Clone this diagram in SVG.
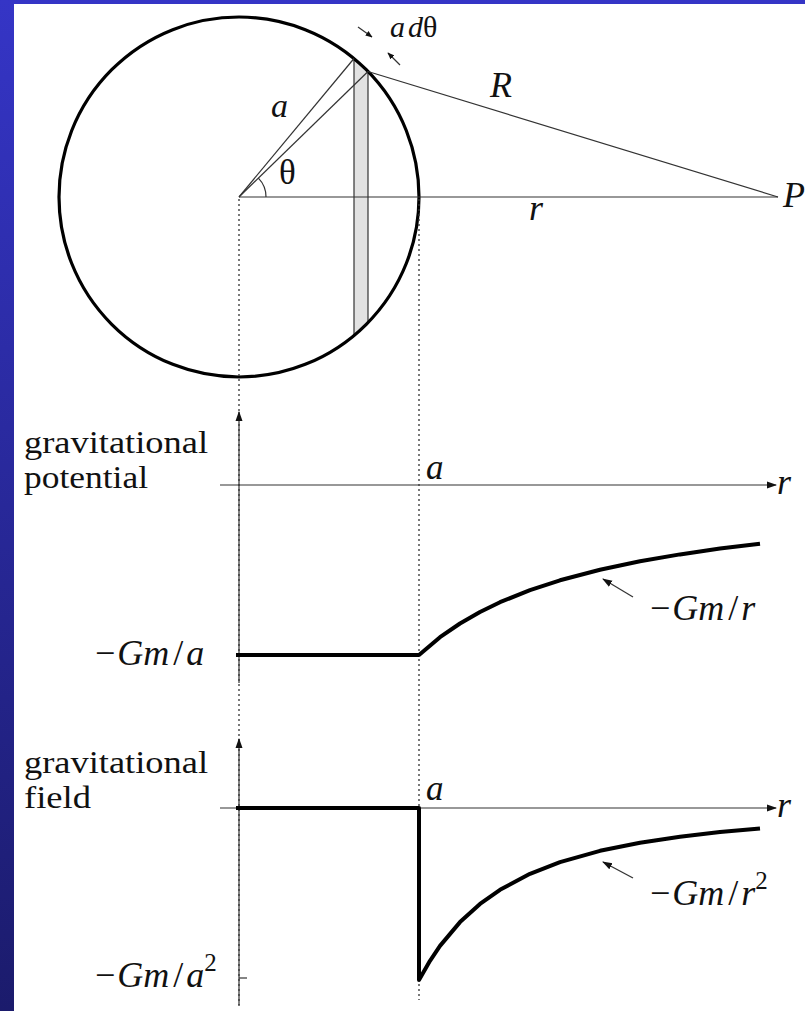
<svg xmlns="http://www.w3.org/2000/svg" width="805" height="1011" viewBox="0 0 805 1011">
<defs>
<linearGradient id="bg" x1="0" y1="0" x2="0" y2="1">
<stop offset="0" stop-color="#3535c6"/>
<stop offset="1" stop-color="#1b1b6c"/>
</linearGradient>
<clipPath id="disk"><circle cx="239" cy="197" r="180"/></clipPath>
<marker id="ah" viewBox="0 0 10 10" refX="9" refY="5" markerWidth="10" markerHeight="10" markerUnits="userSpaceOnUse" orient="auto">
<path d="M0,1.5 L10,5 L0,8.5 z" fill="#111"/>
</marker>
<marker id="ahs" viewBox="0 0 10 10" refX="9" refY="5" markerWidth="7" markerHeight="7" markerUnits="userSpaceOnUse" orient="auto">
<path d="M0,1 L10,5 L0,9 z" fill="#111"/>
</marker>
</defs>
<style>
.thin{stroke:#333;stroke-width:1.2;fill:none}
.dot{stroke:#333;stroke-width:1.3;stroke-dasharray:2 3;fill:none}
.thick{stroke:#000;stroke-width:4;fill:none;stroke-linejoin:round}
.lbl{font-family:"Liberation Serif","Times New Roman",serif;fill:#111}
.mi{font-family:"Liberation Serif","Times New Roman",serif;font-style:italic;fill:#111}
</style>
<rect x="0" y="0" width="805" height="1011" fill="url(#bg)"/>
<rect x="14" y="4" width="791" height="1007" fill="#fff"/>

<g id="sphere">
<rect x="354" y="0" width="14" height="400" fill="#e2e2e2" clip-path="url(#disk)"/>
<line class="thin" x1="354" y1="58.5" x2="354" y2="335.5"/>
<line class="thin" x1="368" y1="71.5" x2="368" y2="322.5"/>
<circle cx="239" cy="197" r="180" fill="none" stroke="#000" stroke-width="3.2"/>
</g>

<g id="connectors">
<line class="thin" x1="239" y1="197" x2="354" y2="58.5"/>
<line class="thin" x1="239" y1="197" x2="368" y2="71.5"/>
<line class="thin" x1="368" y1="71.5" x2="778" y2="197"/>
<line class="thin" x1="239" y1="197" x2="778" y2="197"/>
<path class="thin" d="M266,197 A27,27 0 0 0 258.4,178.2"/>
<line class="thin" x1="358" y1="27" x2="372" y2="37" marker-end="url(#ahs)"/>
<line class="thin" x1="400" y1="65" x2="388" y2="53" marker-end="url(#ahs)"/>
<line class="dot" x1="239" y1="199" x2="239" y2="1008"/>
<line class="dot" x1="419" y1="199" x2="419" y2="1000"/>
<line class="thin" x1="239" y1="683" x2="239" y2="412" marker-end="url(#ah)"/>
<line class="thin" x1="220" y1="485" x2="776" y2="485" marker-end="url(#ah)"/>
<line class="thin" x1="239" y1="1005" x2="239" y2="739" marker-end="url(#ah)"/>
<line class="thin" x1="220" y1="808" x2="776" y2="808" marker-end="url(#ah)"/>
<line class="thin" x1="239" y1="978" x2="247" y2="978"/>
<line class="thin" x1="633" y1="597" x2="603" y2="579" marker-end="url(#ah)"/>
<line class="thin" x1="633" y1="878" x2="603" y2="862" marker-end="url(#ah)"/>
</g>

<g id="potential-curve">
<polyline class="thick" points="236,655 419,655 440,637.2 460,623.5 480,612 500,602.2 530,590.2 560,580.3 600,569.8 640,561.3 680,554.4 720,548.6 760,543.7"/>
</g>
<g id="field-curve">
<polyline class="thick" points="236,808 419,808 419,980 430,960.8 440,945.9 460,922.1 480,903.9 500,889.8 530,873.8 560,862.1 600,850.8 640,842.7 680,836.7 720,832.1 760,828.5"/>
</g>

<g id="labels">
<text class="mi" x="390" y="37" font-size="30">a<tspan dx="3">d</tspan><tspan font-style="normal">θ</tspan></text>
<text class="mi" x="271" y="117" font-size="34">a</text>
<text class="lbl" x="279" y="184" font-size="35">θ</text>
<text class="mi" x="490" y="97" font-size="36">R</text>
<text class="mi" x="529" y="220" font-size="36">r</text>
<text class="mi" x="783" y="207" font-size="36">P</text>
<text class="lbl" x="24" y="453" font-size="32" textLength="184" lengthAdjust="spacingAndGlyphs">gravitational</text>
<text class="lbl" x="24" y="488" font-size="32" textLength="124" lengthAdjust="spacingAndGlyphs">potential</text>
<text class="mi" x="426" y="479" font-size="35">a</text>
<text class="mi" x="777" y="494" font-size="36">r</text>
<text class="mi" x="95" y="665" font-size="36"><tspan font-style="normal">−</tspan><tspan dx="2">Gm</tspan><tspan dx="4" font-style="normal">/</tspan><tspan dx="3">a</tspan></text>
<text class="mi" x="650" y="620" font-size="36"><tspan font-style="normal">−</tspan><tspan dx="2">Gm</tspan><tspan dx="4" font-style="normal">/</tspan><tspan dx="3">r</tspan></text>
<text class="lbl" x="24" y="773" font-size="32" textLength="184" lengthAdjust="spacingAndGlyphs">gravitational</text>
<text class="lbl" x="24" y="808" font-size="32" textLength="67" lengthAdjust="spacingAndGlyphs">field</text>
<text class="mi" x="426" y="800" font-size="35">a</text>
<text class="mi" x="777" y="817" font-size="36">r</text>
<text class="mi" x="650" y="905" font-size="36"><tspan font-style="normal">−</tspan><tspan dx="2">Gm</tspan><tspan dx="4" font-style="normal">/</tspan><tspan dx="3">r</tspan><tspan font-style="normal" font-size="25" dy="-16">2</tspan></text>
<text class="mi" x="95" y="987" font-size="36"><tspan font-style="normal">−</tspan><tspan dx="2">Gm</tspan><tspan dx="4" font-style="normal">/</tspan><tspan dx="3">a</tspan><tspan font-style="normal" font-size="25" dy="-16">2</tspan></text>
</g>
</svg>
